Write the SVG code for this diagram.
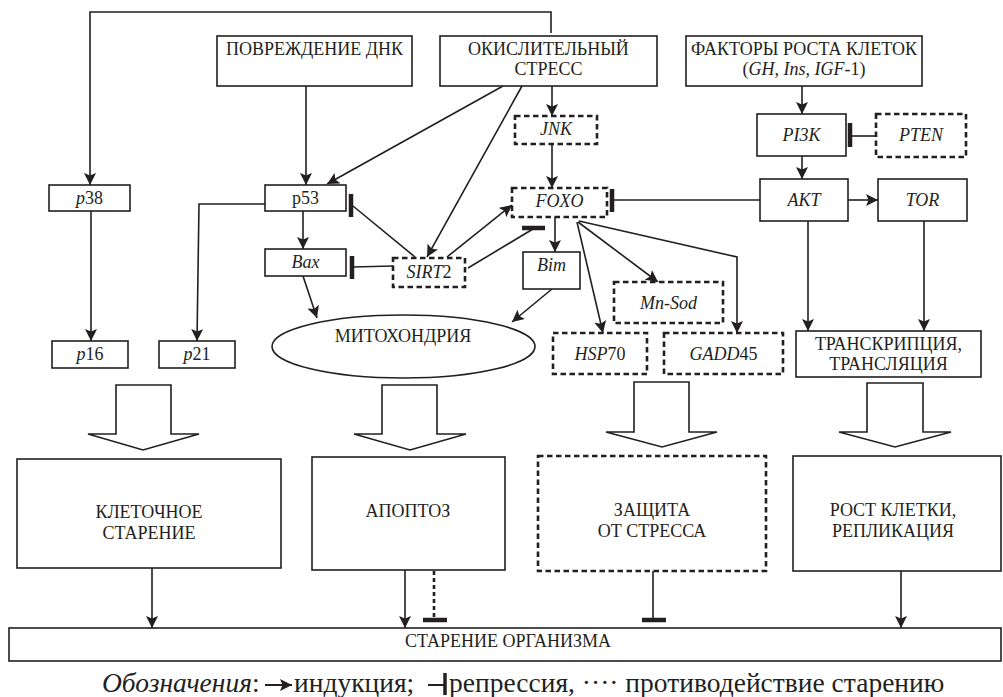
<svg xmlns="http://www.w3.org/2000/svg" width="1003" height="697" viewBox="0 0 1003 697">
<style>
text{font-family:"Liberation Serif","Times New Roman",serif;font-size:18px;fill:#231f20;text-anchor:middle}
.i{font-style:italic}
.box{fill:#fff;stroke:#231f20;stroke-width:1.6}
.dbox{fill:#fff;stroke:#231f20;stroke-width:2.6;stroke-dasharray:5.5 3.5}
.ln{fill:none;stroke:#231f20;stroke-width:1.6}
.ar{fill:none;stroke:#231f20;stroke-width:1.6;marker-end:url(#ah)}
.bar{stroke:#231f20;stroke-width:4.5}
.blk{fill:#fff;stroke:#231f20;stroke-width:1.6}
.leg{font-size:27.5px;text-anchor:start}
</style>
<defs>
<marker id="ah" viewBox="0 0 12 12" refX="12" refY="6" markerWidth="12" markerHeight="12" markerUnits="userSpaceOnUse" orient="auto">
<path d="M0,0 L12,6 L0,12 L2.5,6 z" fill="#231f20"/>
</marker>
</defs>
<rect width="1003" height="697" fill="#fff"/>

<g id="connectors">
<polyline class="ar" points="551,33 551,12 90,12 90,185"/>
<line class="ar" x1="306" y1="86" x2="306" y2="185"/>
<line class="ar" x1="503" y1="86" x2="327" y2="184"/>
<line class="ar" x1="522" y1="86" x2="427" y2="257"/>
<line class="ar" x1="552" y1="86" x2="552" y2="116"/>
<line class="ar" x1="552" y1="144" x2="552" y2="188"/>
<line class="ar" x1="802" y1="86" x2="802" y2="114"/>
<line class="ln" x1="876" y1="136" x2="850" y2="136"/>
<line class="bar" x1="850" y1="123" x2="850" y2="147"/>
<line class="ar" x1="802" y1="156" x2="802" y2="179"/>
<line class="ar" x1="848" y1="200" x2="878" y2="200"/>
<line class="ln" x1="760" y1="200" x2="612" y2="200"/>
<line class="bar" x1="612" y1="189" x2="612" y2="212"/>
<line class="ar" x1="808" y1="221" x2="808" y2="331"/>
<line class="ar" x1="924" y1="221" x2="924" y2="331"/>
<line class="ar" x1="91" y1="211" x2="91" y2="341"/>
<polyline class="ar" points="265,204 199,204 197,341"/>
<line class="ar" x1="303" y1="211" x2="303" y2="249"/>
<line class="ln" x1="415" y1="257" x2="353" y2="206"/>
<line class="bar" x1="351" y1="194" x2="351" y2="217"/>
<line class="ln" x1="393" y1="266" x2="353" y2="267"/>
<line class="bar" x1="352" y1="256" x2="352" y2="279"/>
<line class="ar" x1="447" y1="257" x2="512" y2="205"/>
<line class="ln" x1="468" y1="268" x2="533" y2="229"/>
<line class="bar" x1="522" y1="228" x2="545" y2="228"/>
<line class="ar" x1="555" y1="217" x2="555" y2="252"/>
<line class="ar" x1="552" y1="289" x2="512" y2="322"/>
<line class="ar" x1="303" y1="276" x2="317" y2="318"/>
<line class="ar" x1="577" y1="222" x2="603" y2="333"/>
<line class="ar" x1="578" y1="222" x2="658" y2="282"/>
<polyline class="ar" points="579,221 737,257 737,333"/>
<line class="ar" x1="152" y1="568" x2="152" y2="628"/>
<line class="ar" x1="405" y1="570" x2="405" y2="628"/>
<line class="ln" x1="434" y1="571" x2="434" y2="618" style="stroke-width:2.6;stroke-dasharray:4 3"/>
<line class="bar" x1="423" y1="620" x2="447" y2="620"/>
<line class="ln" x1="653" y1="571" x2="653" y2="620"/>
<line class="bar" x1="642" y1="620" x2="666" y2="620"/>
<line class="ar" x1="901" y1="571" x2="901" y2="628"/>
</g>

<g id="dnk"><rect class="box" x="217" y="36" width="195" height="50"/><text x="314.5" y="55">ПОВРЕЖДЕНИЕ ДНК</text></g>
<g id="oxstress"><rect class="box" x="440" y="36" width="217" height="50"/><text x="548.5" y="55">ОКИСЛИТЕЛЬНЫЙ</text><text x="548.5" y="75">СТРЕСС</text></g>
<g id="growth"><rect class="box" x="686" y="36" width="236" height="50"/><text x="804" y="55">ФАКТОРЫ РОСТА КЛЕТОК</text><text x="804" y="75">(<tspan class="i">GH</tspan>, <tspan class="i">Ins</tspan>, <tspan class="i">IGF</tspan>-1)</text></g>
<g id="jnk"><rect class="dbox" x="515" y="116" width="82" height="28"/><text class="i" x="556" y="135">JNK</text></g>
<g id="pi3k"><rect class="box" x="757" y="114" width="89" height="42"/><text class="i" x="801.5" y="141">PI3K</text></g>
<g id="pten"><rect class="dbox" x="876" y="114" width="90" height="43"/><text class="i" x="921" y="141">PTEN</text></g>
<g id="p38"><rect class="box" x="49" y="185" width="81" height="26"/><text x="89.5" y="204"><tspan class="i">p</tspan>38</text></g>
<g id="p53"><rect class="box" x="265" y="185" width="81" height="26"/><text x="305.5" y="204">p53</text></g>
<g id="foxo"><rect class="dbox" x="512" y="188" width="95" height="29"/><text class="i" x="559.5" y="207">FOXO</text></g>
<g id="akt"><rect class="box" x="760" y="179" width="88" height="42"/><text class="i" x="804" y="206">AKT</text></g>
<g id="tor"><rect class="box" x="878" y="179" width="89" height="42"/><text class="i" x="922.5" y="206">TOR</text></g>
<g id="bax"><rect class="box" x="265" y="249" width="81" height="27"/><text class="i" x="305.5" y="268">Bax</text></g>
<g id="sirt2"><rect class="dbox" x="393" y="258" width="72" height="29"/><text x="429" y="278"><tspan class="i">SIRT</tspan>2</text></g>
<g id="bim"><rect class="box" x="523" y="252" width="57" height="37"/><text class="i" x="551.5" y="271">Bim</text></g>
<g id="mnsod"><rect class="dbox" x="614" y="282" width="109" height="41"/><text class="i" x="668.5" y="309">Mn-Sod</text></g>
<g id="mito"><ellipse class="box" cx="403.5" cy="346.5" rx="131.5" ry="31.5"/><text x="403" y="342">МИТОХОНДРИЯ</text></g>
<g id="p16"><rect class="box" x="52" y="341" width="76" height="27"/><text x="90" y="360"><tspan class="i">p</tspan>16</text></g>
<g id="p21"><rect class="box" x="159" y="341" width="76" height="27"/><text x="197" y="360"><tspan class="i">p</tspan>21</text></g>
<g id="hsp70"><rect class="dbox" x="553" y="333" width="94" height="41"/><text x="600" y="360"><tspan class="i">HSP</tspan>70</text></g>
<g id="gadd45"><rect class="dbox" x="664" y="333" width="119" height="41"/><text x="723.5" y="360"><tspan class="i">GADD</tspan>45</text></g>
<g id="transcr"><rect class="box" x="796" y="331" width="185" height="46"/><text x="888.5" y="350">ТРАНСКРИПЦИЯ,</text><text x="888.5" y="370">ТРАНСЛЯЦИЯ</text></g>

<g id="blockarrows">
<polygon class="blk" points="116,385 171,385 171,434 199,434 143,450 88,434 116,434"/>
<polygon class="blk" points="382,385 437,385 437,434 466,434 410,450 354,434 382,434"/>
<polygon class="blk" points="634,382 689,382 689,432 717,432 662,447 606,432 634,432"/>
<polygon class="blk" points="867,383 923,383 923,432 951,432 895,447 839,432 867,432"/>
</g>

<g id="senescence"><rect class="box" x="17" y="459" width="264" height="109"/><text x="149" y="518">КЛЕТОЧНОЕ</text><text x="149" y="539">СТАРЕНИЕ</text></g>
<g id="apoptosis"><rect class="box" x="312" y="457" width="193" height="113"/><text x="408" y="517">АПОПТОЗ</text></g>
<g id="protection"><rect class="dbox" x="538" y="456" width="228" height="115"/><text x="652" y="516">ЗАЩИТА</text><text x="652" y="537">ОТ СТРЕССА</text></g>
<g id="growthrep"><rect class="box" x="793" y="456" width="208" height="115"/><text x="893" y="516">РОСТ КЛЕТКИ,</text><text x="893" y="537">РЕПЛИКАЦИЯ</text></g>
<g id="aging"><rect class="box" x="9" y="628" width="992" height="33"/><text x="508" y="647">СТАРЕНИЕ ОРГАНИЗМА</text></g>

<g id="legend">
<text class="leg" x="102" y="692"><tspan class="i">Обозначения</tspan>:</text>
<line class="ar" x1="265" y1="685" x2="292" y2="685" style="stroke-width:2"/>
<text class="leg" x="294" y="692">индукция;</text>
<line class="ln" x1="428" y1="685" x2="444" y2="685" style="stroke-width:2"/>
<line class="bar" x1="445" y1="673" x2="445" y2="695" style="stroke-width:3.5"/>
<text class="leg" x="449" y="692">репрессия, ···· противодействие старению</text>
</g>
</svg>
